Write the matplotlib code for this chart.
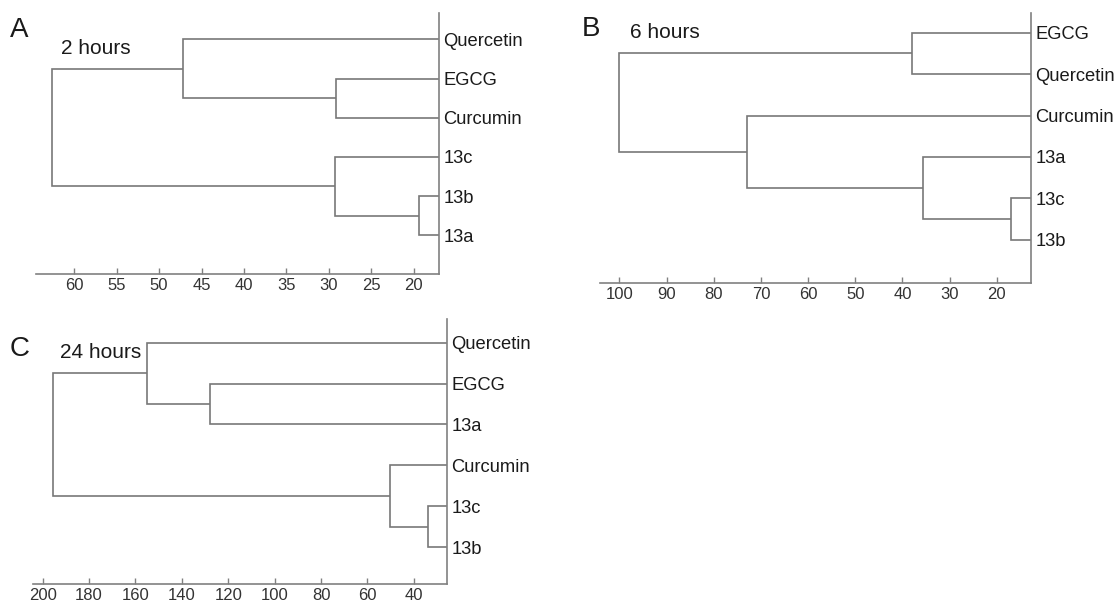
import matplotlib
matplotlib.use("Agg")
import matplotlib.pyplot as plt

plt.rcParams['font.family'] = ['Liberation Sans', 'DejaVu Sans']

# ---------------- data ----------------
leaves_A = ['Quercetin', 'EGCG', 'Curcumin', '13c', '13b', '13a']
# (child_a, child_b, height) ; leaves are 0..5, merges numbered 6.. in order
merges_A = [(1, 2, 29.2), (4, 5, 19.4), (3, 7, 29.3), (0, 6, 47.2), (9, 8, 62.6)]
ticks_A = [60, 55, 50, 45, 40, 35, 30, 25, 20]

leaves_B = ['EGCG', 'Quercetin', 'Curcumin', '13a', '13c', '13b']
merges_B = [(4, 5, 17.0), (3, 6, 35.6), (2, 7, 73.0), (0, 1, 38.0), (9, 8, 100.0)]
ticks_B = [100, 90, 80, 70, 60, 50, 40, 30, 20]

leaves_C = ['Quercetin', 'EGCG', '13a', 'Curcumin', '13c', '13b']
merges_C = [(1, 2, 127.8), (4, 5, 34.1), (3, 7, 50.2), (0, 6, 154.8), (9, 8, 195.5)]
ticks_C = [200, 180, 160, 140, 120, 100, 80, 60, 40]

W, H = 1115, 604
fig = plt.figure(figsize=(W / 100, H / 100), dpi=100)

LINE = '#787878'
SPINE = '#808080'


def px_axes(left, right, top, bottom):
    return fig.add_axes([left / W, 1 - bottom / H, (right - left) / W, (bottom - top) / H])


def draw_dendro(ax, leaves, merges, xlim, ylim, ticks):
    n = len(leaves)
    pos = {i: (0.0, float(i)) for i in range(n)}  # (height, y)
    k = n
    for a, b, h in merges:
        ha, ya = pos[a]
        hb, yb = pos[b]
        ax.plot([ha, h, h, hb], [ya, ya, yb, yb], color=LINE, lw=1.2,
                solid_joinstyle='miter', solid_capstyle='butt')
        pos[k] = (h, (ya + yb) / 2)
        k += 1
    ax.set_xlim(*xlim)
    ax.set_ylim(*ylim)
    for s in ('left', 'top'):
        ax.spines[s].set_visible(False)
    for s in ('right', 'bottom'):
        ax.spines[s].set_color(SPINE)
        ax.spines[s].set_linewidth(1.2)
    ax.yaxis.tick_right()
    ax.set_yticks(range(n))
    ax.set_yticklabels(leaves, fontsize=13.2, color='#1a1a1a')
    ax.tick_params(axis='y', length=0, pad=2.8)
    ax.set_xticks(ticks)
    ax.set_xticklabels([str(t) for t in ticks], fontsize=12, color='#333333')
    ax.tick_params(axis='x', direction='in', length=4, width=1, color=SPINE, pad=3)
    ax.patch.set_alpha(0)


axA = px_axes(36, 439.3, 12.7, 274)
draw_dendro(axA, leaves_A, merges_A, (64.5, 17.0), (5.99, -0.68), ticks_A)

axB = px_axes(600, 1031.3, 12.7, 283)
draw_dendro(axB, leaves_B, merges_B, (104.1, 12.7), (6.04, -0.48), ticks_B)

axC = px_axes(33.3, 447.3, 319.3, 584)
draw_dendro(axC, leaves_C, merges_C, (204, 25.6), (5.9, -0.57), ticks_C)


def ftext(x, y, s, size):
    fig.text(x / W, 1 - y / H, s, fontsize=size, ha='left', va='center', color='#1a1a1a')


ftext(10, 30, 'A', 20)
ftext(61, 48, '2 hours', 15)
ftext(582, 29, 'B', 20)
ftext(630, 32, '6 hours', 15)
ftext(10, 349, 'C', 20)
ftext(60, 353, '24 hours', 15)

fig.savefig('out.png', dpi=100)
